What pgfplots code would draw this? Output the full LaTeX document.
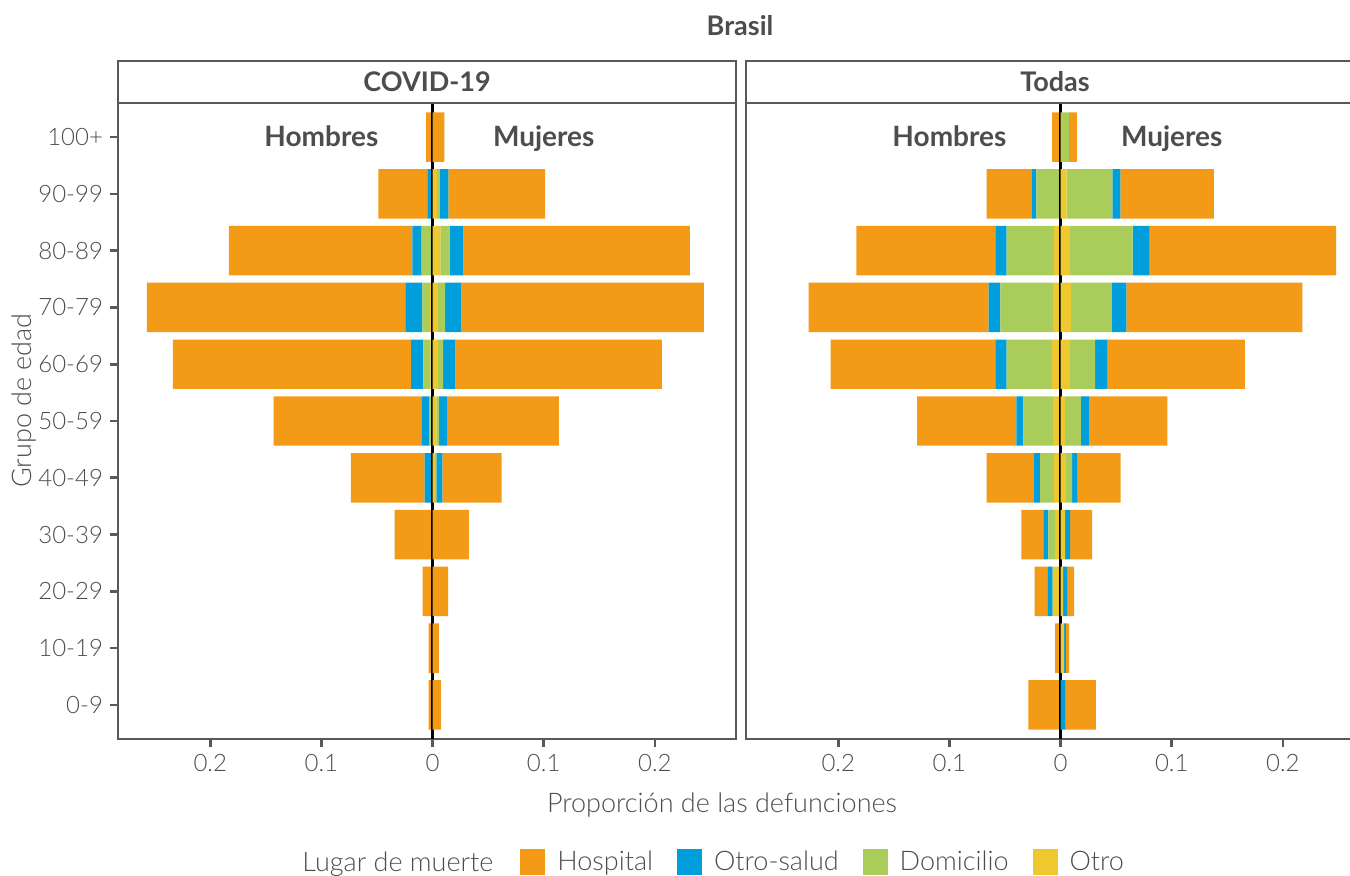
\documentclass[border=0pt]{standalone}
\usepackage{fontspec}
\setmainfont{Lato}
\newfontfamily\lightfont{Lato Light}
\usepackage{pgfplots}
\usepackage{pgfplotstable}
\pgfplotsset{compat=1.18}

\definecolor{hosp}{HTML}{F39A17}
\definecolor{osal}{HTML}{009FDC}
\definecolor{domi}{HTML}{AACC5A}
\definecolor{otro}{HTML}{EEC82F}
\definecolor{frame}{HTML}{595959}
\definecolor{txt}{HTML}{4D4D4D}

\newcommand\fs{\lightfont\fontsize{12}{14}\selectfont}
\newcommand\ft{\lightfont\fontsize{13.5}{16}\selectfont}
\newcommand\fb{\fontsize{13.5}{16}\selectfont\bfseries}
\newcommand\fh{\fontsize{14}{16}\selectfont\bfseries}

% g = age group (0 = 0-9 ... 10 = 100+); m = hombres, w = mujeres
% O = Otro, D = Domicilio, S = Otro-salud, H = Hospital
\pgfplotstableread{
g  mO     mD     mS     mH     wO     wD     wS     wH
0  0      0      0      0.0036 0      0      0      0.0075
1  0      0      0      0.0036 0      0      0      0.0057
2  0      0      0      0.0089 0      0      0      0.0139
3  0      0      0      0.0341 0      0      0      0.0327
4  0.0005 0.0008 0.0058 0.0665 0.0020 0.0015 0.0054 0.0533
5  0.0012 0.0020 0.0064 0.1333 0.0035 0.0025 0.0068 0.1009
6  0.0018 0.0064 0.0110 0.2145 0.0050 0.0046 0.0110 0.1857
7  0.0025 0.0067 0.0153 0.2326 0.0050 0.0064 0.0146 0.2180
8  0.0015 0.0084 0.0082 0.1651 0.0071 0.0082 0.0124 0.2038
9  0.0005 0.0008 0.0033 0.0441 0.0040 0.0025 0.0078 0.0869
10 0      0      0      0.0057 0      0      0      0.0107
}\covid

\pgfplotstableread{
g  mO     mD     mS     mH     wO     wD     wS     wH
0  0      0      0      0.0290 0      0      0.0045 0.0272
1  0      0      0      0.0048 0.0031 0      0.0017 0.0028
2  0.0066 0.0005 0.0044 0.0118 0.0024 0      0.0034 0.0063
3  0.0048 0.0062 0.0045 0.0197 0.0041 0      0.0045 0.0197
4  0.0059 0.0124 0.0055 0.0428 0.0048 0.0055 0.0045 0.0393
5  0.0066 0.0268 0.0063 0.0893 0.0041 0.0141 0.0072 0.0708
6  0.0076 0.0410 0.0100 0.1483 0.0083 0.0228 0.0107 0.1241
7  0.0066 0.0475 0.0107 0.1618 0.0093 0.0369 0.0131 0.1583
8  0.0059 0.0427 0.0100 0.1252 0.0083 0.0566 0.0152 0.1678
9  0.0010 0.0207 0.0038 0.0411 0.0055 0.0410 0.0072 0.0842
10 0      0.0010 0      0.0066 0.0005 0.0069 0      0.0072
}\todas

\pgfplotsset{
  pyr/.style={
    at={#1}, anchor=north west,
    scale only axis, width=309pt, height=318pt,
    xmin=-0.283, xmax=0.273, ymin=-0.6, ymax=10.6,
    xbar stacked, bar width=0.87,
  },
  frm/.style={
    axis line style={draw=frame, line width=1.3pt},
    tick style={draw=frame, line width=1.3pt},
    major tick length=4pt, tick align=outside,
    xtick pos=bottom, ytick pos=left,
    xtick={-0.2,-0.1,0,0.1,0.2}, xticklabels={0.2,0.1,0,0.1,0.2},
    ticklabel style={font=\fs, text=txt},
  },
  legsq/.style={legend image code/.code={\fill[##1, draw=none] (0pt,-6.5pt) rectangle (12.5pt,6.5pt);}},
}
\tikzset{sexo/.style={font=\fh, text=txt, anchor=base, yshift=-4.5pt}}

\begin{document}
\begin{tikzpicture}
% ---- COVID-19, hombres
\begin{axis}[pyr={(59pt,-51.5pt)}, frm, name=covid,
  ytick={0,...,10},
  yticklabels={0-9,10-19,20-29,30-39,40-49,50-59,60-69,70-79,80-89,90-99,100+}]
\addplot[fill=otro, draw=none] table[x expr=-\thisrow{mO}, y=g] {\covid};
\addplot[fill=domi, draw=none] table[x expr=-\thisrow{mD}, y=g] {\covid};
\addplot[fill=osal, draw=none] table[x expr=-\thisrow{mS}, y=g] {\covid};
\addplot[fill=hosp, draw=none] table[x expr=-\thisrow{mH}, y=g] {\covid};
\end{axis}
% ---- COVID-19, mujeres
\begin{axis}[pyr={(59pt,-51.5pt)}, hide axis,
  legend columns=4,
  legend style={at={(0.6505,-0.1934)}, anchor=west, draw=none, fill=none,
    inner sep=0pt, font=\ft, text=txt,
    /tikz/every odd column/.append style={column sep=4pt},
    /tikz/every even column/.append style={column sep=10pt}}]
\addlegendimage{legsq, fill=hosp}\addlegendentry{Hospital}
\addlegendimage{legsq, fill=osal}\addlegendentry{Otro-salud}
\addlegendimage{legsq, fill=domi}\addlegendentry{Domicilio}
\addlegendimage{legsq, fill=otro}\addlegendentry{Otro}
\addplot[fill=otro, draw=none] table[x=wO, y=g] {\covid};
\addplot[fill=domi, draw=none] table[x=wD, y=g] {\covid};
\addplot[fill=osal, draw=none] table[x=wS, y=g] {\covid};
\addplot[fill=hosp, draw=none] table[x=wH, y=g] {\covid};
\draw[black, line width=1.3pt] (axis cs:0,-0.6) -- (axis cs:0,10.6);
\node[sexo] at (axis cs:-0.1,10) {Hombres};
\node[sexo] at (axis cs:0.1,10) {Mujeres};
\end{axis}

% ---- Todas, hombres
\begin{axis}[pyr={(373pt,-51.5pt)}, frm, name=todas, ytick=\empty]
\addplot[fill=otro, draw=none] table[x expr=-\thisrow{mO}, y=g] {\todas};
\addplot[fill=domi, draw=none] table[x expr=-\thisrow{mD}, y=g] {\todas};
\addplot[fill=osal, draw=none] table[x expr=-\thisrow{mS}, y=g] {\todas};
\addplot[fill=hosp, draw=none] table[x expr=-\thisrow{mH}, y=g] {\todas};
\end{axis}
% ---- Todas, mujeres
\begin{axis}[pyr={(373pt,-51.5pt)}, hide axis]
\addplot[fill=otro, draw=none] table[x=wO, y=g] {\todas};
\addplot[fill=domi, draw=none] table[x=wD, y=g] {\todas};
\addplot[fill=osal, draw=none] table[x=wS, y=g] {\todas};
\addplot[fill=hosp, draw=none] table[x=wH, y=g] {\todas};
\draw[black, line width=1.3pt] (axis cs:0,-0.6) -- (axis cs:0,10.6);
\node[sexo] at (axis cs:-0.1,10) {Hombres};
\node[sexo] at (axis cs:0.1,10) {Mujeres};
\end{axis}

% facet strips
\foreach \p/\t in {covid/COVID-19, todas/Todas}{
  \draw[frame, line width=1.3pt, fill=white] (\p.north west) rectangle ([yshift=21pt]\p.north east);
  \node[font=\fb, text=txt] at ([yshift=10.5pt]\p.north) {\t};
}

% titles
\node[font=\fb, text=txt] at (370pt,-13pt) {Brasil};
\node[font=\ft, text=txt] at (361pt,-402.5pt) {Proporción de las defunciones};
\node[font=\ft, text=txt, rotate=90] at (12pt,-200.25pt) {Grupo de edad};
\node[font=\ft, text=txt, anchor=base west, inner sep=0pt] at (151pt,-435.5pt) {Lugar de muerte};

\pgfresetboundingbox
\useasboundingbox (0,0) rectangle (675pt,-437.5pt);
\end{tikzpicture}
\end{document}
